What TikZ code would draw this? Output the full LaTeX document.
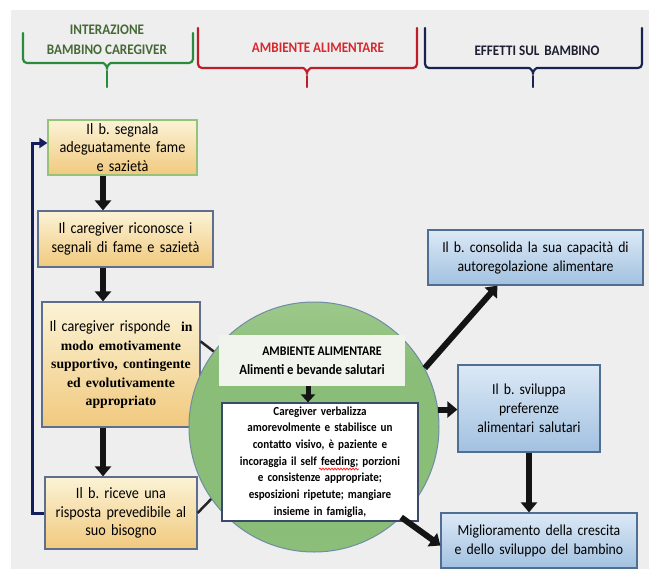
\documentclass[tikz,border=0pt]{standalone}
\usepackage{fontspec}
\setmainfont{Carlito}[FakeStretch=0.9]
\newfontfamily\seriff{Liberation Serif}
\usetikzlibrary{arrows.meta,calc,decorations.pathmorphing}
\frenchspacing
\definecolor{bgc}{RGB}{238,238,238}
\definecolor{ytop}{RGB}{251,243,214}
\definecolor{ybot}{RGB}{241,201,126}
\definecolor{yborder}{RGB}{95,110,140}
\definecolor{gborder}{RGB}{150,195,120}
\definecolor{btop}{RGB}{220,233,246}
\definecolor{bbot}{RGB}{162,193,224}
\definecolor{bborder}{RGB}{80,110,145}
\definecolor{hgreen}{RGB}{40,140,60}
\definecolor{hgreentxt}{RGB}{70,105,55}
\definecolor{hred}{RGB}{190,30,40}
\definecolor{hredtxt}{RGB}{215,40,45}
\definecolor{hnavy}{RGB}{25,35,80}
\definecolor{hnavytxt}{RGB}{30,30,50}
\definecolor{fbnavy}{RGB}{20,30,90}
\definecolor{ctop}{RGB}{214,231,203}
\definecolor{cup}{RGB}{168,206,150}
\definecolor{cmid}{RGB}{138,189,120}
\definecolor{cbot}{RGB}{150,198,132}
\definecolor{ibfill}{RGB}{240,244,236}
\definecolor{ibborder}{RGB}{60,74,106}
\definecolor{cborder}{RGB}{110,140,165}
\pgfdeclareverticalshading{circv}{100bp}{color(0bp)=(cbot); color(30bp)=(cmid); color(62bp)=(cmid); color(82bp)=(cup); color(100bp)=(ctop)}
\newcommand\mybrace[7]{%
  \draw[#1, line width=2.2pt, rounded corners=4pt, line cap=round]
    (#2,#4) -- (#2,#5) -- ({#6-8},#5) .. controls ({#6-3},#5) and (#6,{#5+3}) .. (#6,{#5+9})
    .. controls (#6,{#5+3}) and ({#6+3},#5) .. ({#6+8},#5) -- (#3,#5) -- (#3,#4);
  \draw[#1, line width=2.2pt, line cap=round] (#6,{#5+8}) -- (#6,#7);
}
\begin{document}
\begin{tikzpicture}[x=1pt,y=-1pt,
  head/.style={font=\bfseries\fontsize{14.6}{20}\selectfont, align=center, inner sep=0pt},
  lbox/.style={draw=yborder, line width=1.2pt, top color=ytop, bottom color=ybot,
    align=center, inner sep=0pt, font=\fontsize{15.8}{18.5}\selectfont},
  rbox/.style={draw=bborder, line width=1.2pt, top color=btop, bottom color=bbot,
    align=center, inner sep=0pt, font=\fontsize{15.3}{19}\selectfont},
  bigarrow/.style={draw=black!92, line width=6pt, -{Triangle[width=16pt,length=10pt]}},
  smallarrow/.style={draw=black!92, line width=5pt, -{Triangle[width=14pt,length=8pt]}},
  fbline/.style={draw=fbnavy, line width=3pt, line join=miter, -{Triangle[width=10pt,length=8pt]}},
  conn/.style={draw=black!85, line width=2.5pt},
  squiggle/.style={draw=red!85, line width=0.8pt, decorate, decoration={snake, amplitude=0.9pt, segment length=3pt}}
]
\useasboundingbox (0,0) rectangle (649,571);
\fill[bgc] (11,10) rectangle (649,569);

% header braces
\mybrace{hgreen}{23}{193}{33}{63}{107}{87}
\mybrace{hred}{198}{417}{28}{68}{307}{87}
\mybrace{hnavy}{425}{642}{28}{68}{533}{87}
\node[head, text=hgreentxt] (h1) at (107,40) {INTERAZIONE\\BAMBINO CAREGIVER};
\node[head, text=hredtxt] (h2) at (318,48) {AMBIENTE ALIMENTARE};
\node[head, text=hnavytxt] (h3) at (537,51) {EFFETTI SUL\hspace{5pt}BAMBINO};

% left column
\node[lbox, draw=gborder, minimum width=149pt, minimum height=55pt, text width=147pt] (b1) at (122.5,147.5)
  {Il b. segnala\\adeguatamente fame\\e sazietà};
\node[lbox, minimum width=175pt, minimum height=56pt, text width=173pt] (b2) at (125.5,239)
  {Il caregiver riconosce i\\segnali di fame e sazietà};
\node[lbox, minimum width=158pt, minimum height=125pt, text width=156pt] (b3) at (121,364.5)
  {Il caregiver risponde \ {\seriff\bfseries\fontsize{13.7}{18}\selectfont in}\\
   {\seriff\bfseries\fontsize{13.7}{18}\selectfont modo emotivamente}\\
   {\seriff\bfseries\fontsize{13.7}{18}\selectfont supportivo, contingente}\\
   {\seriff\bfseries\fontsize{13.7}{18}\selectfont ed evolutivamente}\\
   {\seriff\bfseries\fontsize{13.7}{18}\selectfont appropriato}};
\node[lbox, minimum width=152pt, minimum height=72pt, text width=150pt] (b4) at (121,513)
  {Il b. riceve una\\risposta prevedibile al\\suo bisogno};

\coordinate (ax) at (103,0);
\draw[bigarrow] (b1.south -| ax) -- (b2.north -| ax);
\draw[bigarrow] (b2.south -| ax) -- (b3.north -| ax);
\draw[bigarrow] (b3.south -| ax) -- (b4.north -| ax);

\coordinate (fb) at (32,143);
\draw[fbline] (b4.west) -| (fb) -- (b1.west |- fb);

% central circle
\node[circle, minimum size=250pt, inner sep=0pt, draw=cborder, line width=1pt,
  shade, shading=circv] (circ) at (314,427) {};
\draw[conn] ($(b3.north east)+(0,40)$) -- (circ.143.6);
\draw[conn] (b4.east) -- (circ.215.7);

\node[fill=ibfill, minimum width=186pt, minimum height=51pt, inner sep=0pt, align=center,
  font=\bfseries\fontsize{14.2}{19}\selectfont] (ib1) at (312,360.5)
  {{\fontsize{13.2}{19}\selectfont\hspace*{20pt}AMBIENTE ALIMENTARE}\\
   Alimenti e bevande salutari};
\node[draw=ibborder, fill=white, line width=1.2pt, minimum width=196pt, minimum height=118pt,
  text width=194pt, inner sep=0pt, align=center, font=\bfseries\fontsize{12.3}{16.7}\selectfont]
  (ib2) at (320,462)
  {Caregiver verbalizza\\amorevolmente e stabilisce un\\contatto visivo, è paziente e\\
   incoraggia il self feeding; porzioni\\
   e consistenze appropriate;\\esposizioni ripetute; mangiare\\insieme in famiglia,};
\coordinate (sq1) at (319,469);
\coordinate (sq2) at (359,469);
\draw[squiggle] (sq1) -- (sq2);
\coordinate (sx) at (308,0);
\draw[smallarrow] (ib1.south -| sx) -- (ib2.north -| sx);

% right column
\node[rbox, minimum width=215pt, minimum height=55pt, text width=213pt] (r1) at (535.5,257.5)
  {Il b. consolida la sua capacità di\\autoregolazione\hspace{5pt}alimentare};
\node[rbox, minimum width=142pt, minimum height=87pt, text width=140pt] (r2) at (529,408.5)
  {Il b. sviluppa\\preferenze\\alimentari\hspace{5pt}salutari};
\node[rbox, minimum width=196pt, minimum height=55pt, text width=194pt] (r3) at (539,540.5)
  {Miglioramento della crescita\\e dello sviluppo del bambino};

\draw[bigarrow] (circ.28.4) -- ($(r1.south west)+(70,0)$);
\draw[bigarrow] (circ.8) -- (r2.west |- circ.8);
\draw[bigarrow] (r2.south) -- (r2.south |- r3.north);
\draw[bigarrow] (circ.-46.6) -- ($(r3.west)+(0,5)$);
\end{tikzpicture}
\end{document}
